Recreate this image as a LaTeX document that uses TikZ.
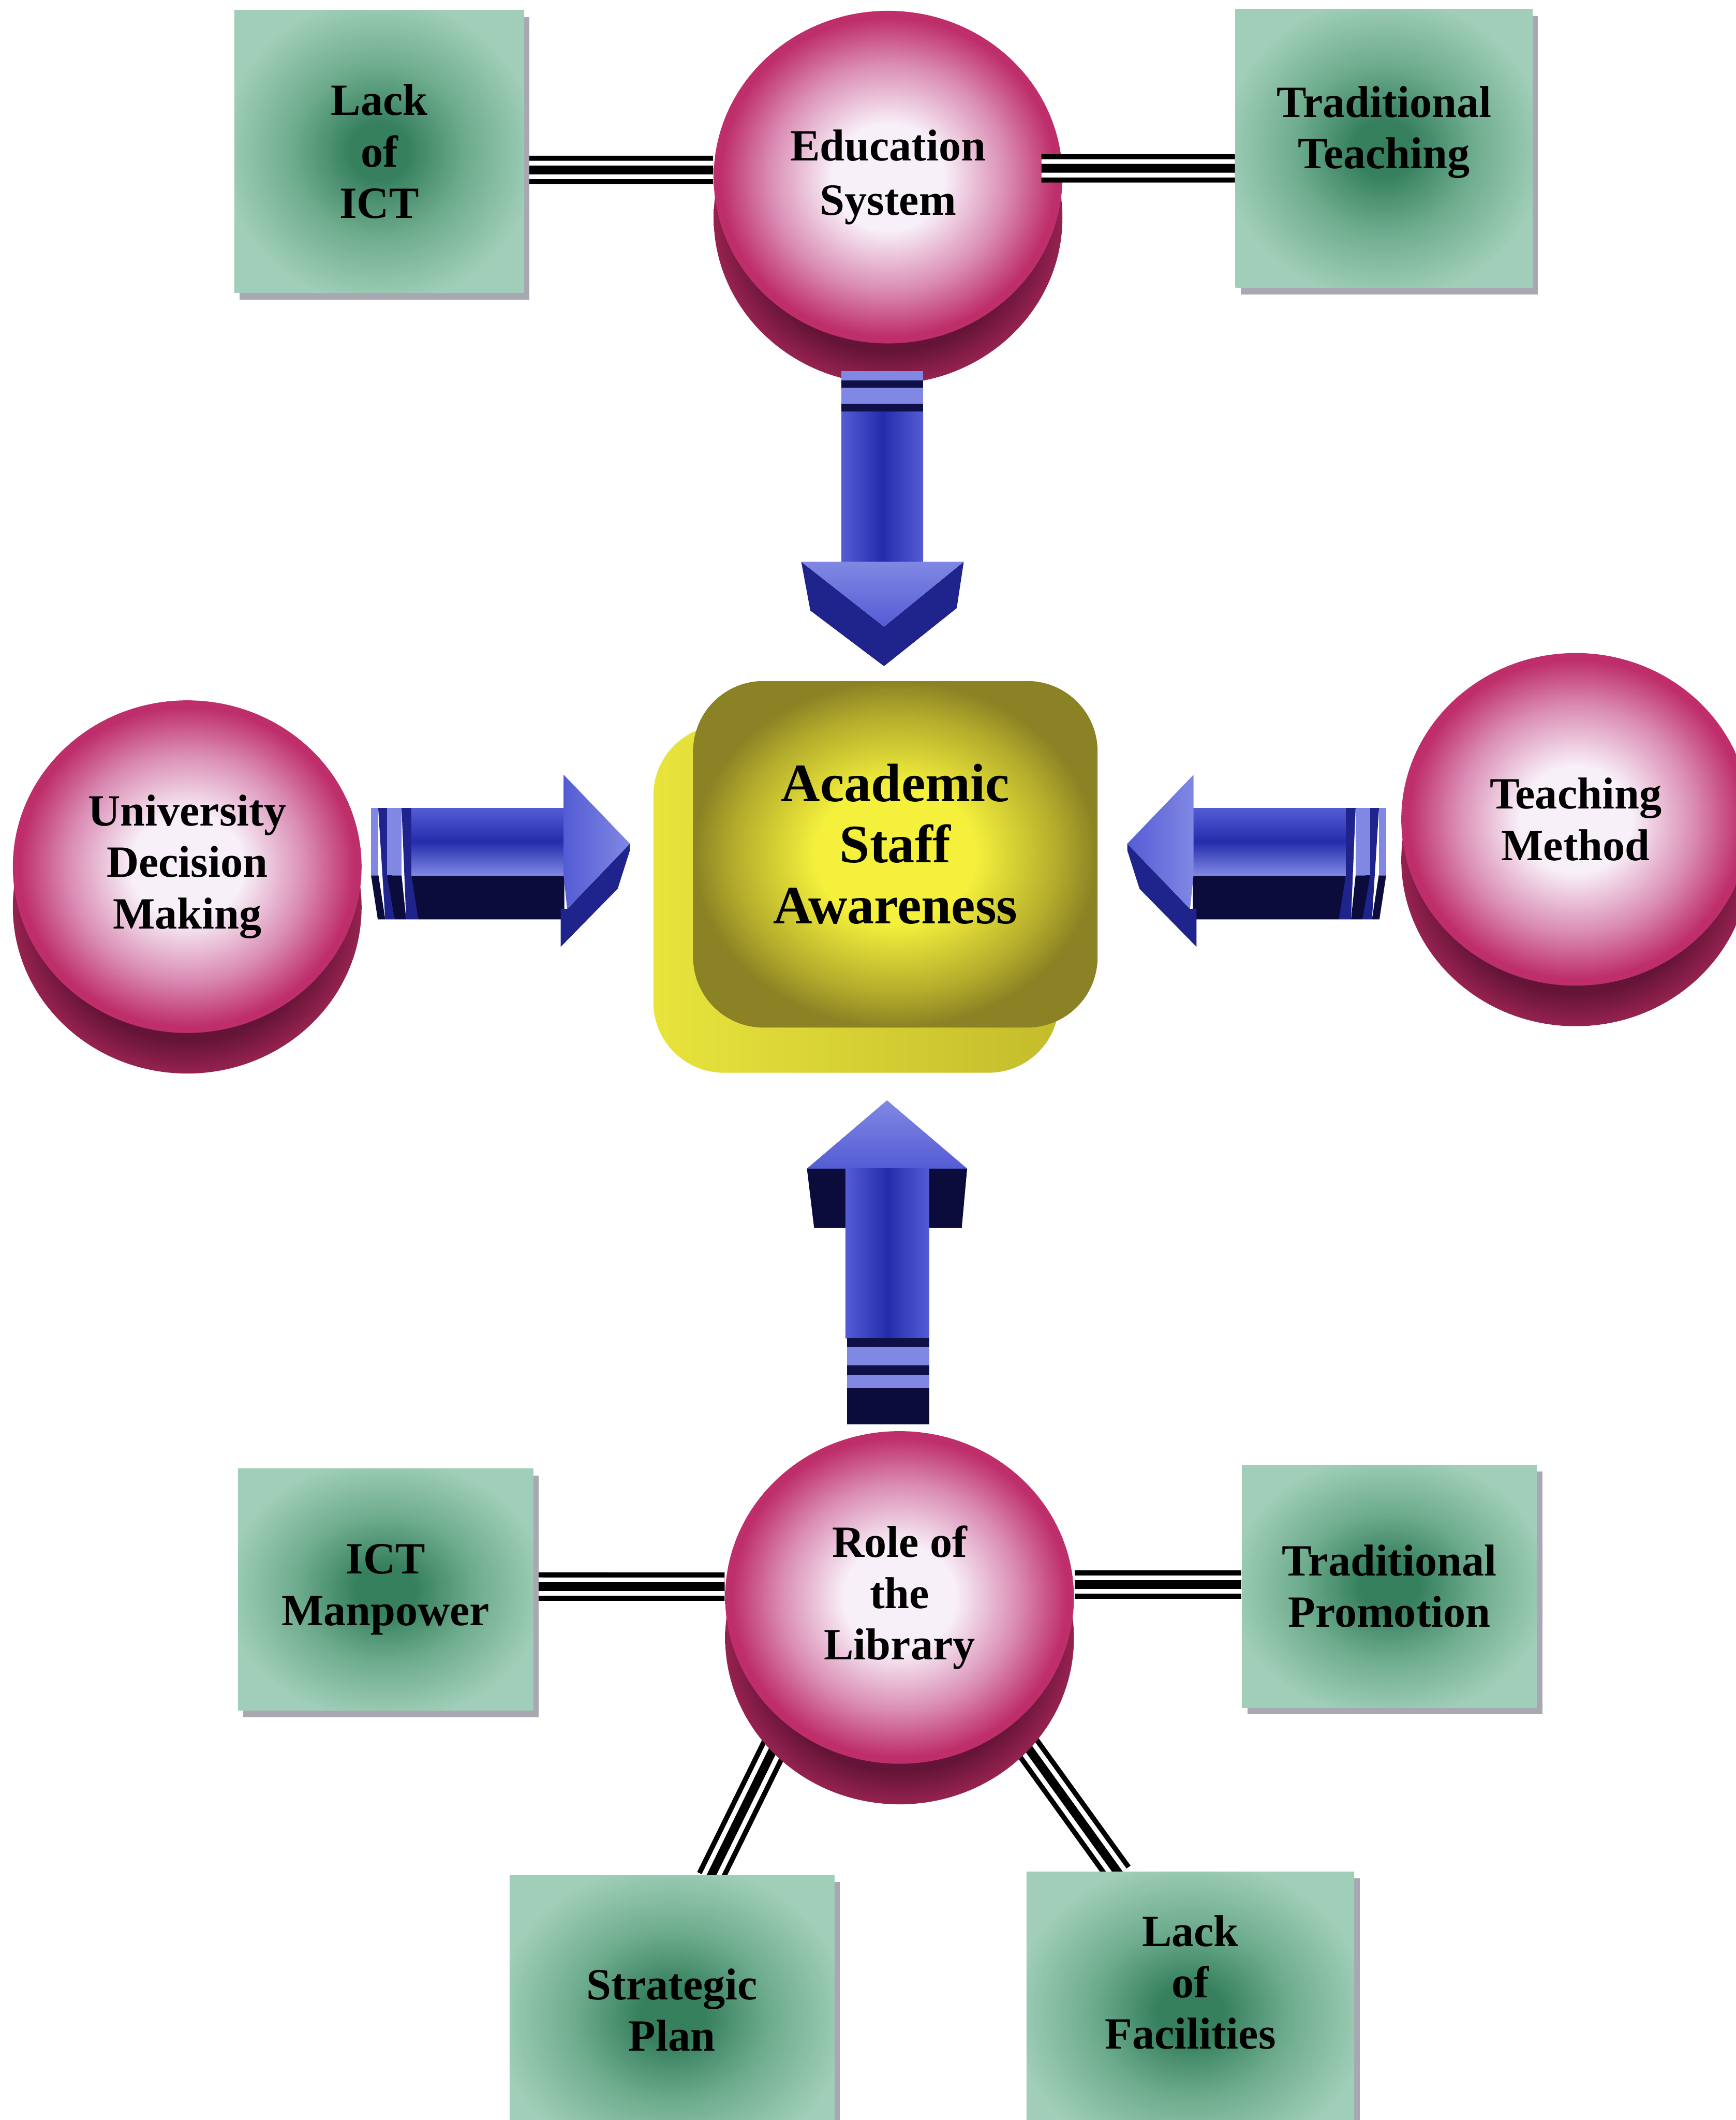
\documentclass[tikz,border=0pt]{standalone}
\usepackage{fontspec}
\setmainfont{Liberation Serif}
\usetikzlibrary{calc,shapes.geometric,shadows}

\definecolor{boxdark}{RGB}{54,128,94}
\definecolor{boxmid}{RGB}{110,172,142}
\definecolor{boxlight}{RGB}{160,206,184}
\definecolor{shadowgray}{RGB}{168,168,178}
\definecolor{cylwhite}{RGB}{248,240,248}
\definecolor{cylmid}{RGB}{218,140,180}
\definecolor{cylrim}{RGB}{190,46,106}
\definecolor{sidedark}{RGB}{100,20,54}
\definecolor{siderim}{RGB}{150,34,80}
\definecolor{ylw}{RGB}{244,240,60}
\definecolor{olivea}{RGB}{180,172,44}
\definecolor{oliveb}{RGB}{138,130,36}
\definecolor{ylwback}{RGB}{232,228,60}
\definecolor{ylwbackb}{RGB}{196,188,44}
\definecolor{arrlight}{RGB}{128,136,228}
\definecolor{arrmid}{RGB}{84,92,212}
\definecolor{arrdeep}{RGB}{36,44,172}
\definecolor{arrside}{RGB}{30,36,140}
\definecolor{arrnavy}{RGB}{12,12,60}
\definecolor{stripe}{RGB}{16,16,72}

\pgfdeclareradialshading{cylface}{\pgfpoint{0bp}{0bp}}{color(0bp)=(cylwhite); color(8bp)=(cylwhite); color(17bp)=(cylmid); color(24bp)=(cylrim); color(50bp)=(cylrim)}
\pgfdeclareradialshading{cylside}{\pgfpoint{0bp}{0bp}}{color(0bp)=(sidedark); color(20bp)=(sidedark); color(25bp)=(siderim); color(50bp)=(siderim)}
\pgfdeclareradialshading{boxsh}{\pgfpoint{0bp}{0bp}}{color(0bp)=(boxdark); color(5bp)=(boxdark); color(15bp)=(boxmid); color(27bp)=(boxlight); color(50bp)=(boxlight)}
\pgfdeclareradialshading{ylwface}{\pgfpoint{0bp}{0bp}}{color(0bp)=(ylw); color(10bp)=(ylw); color(20bp)=(olivea); color(25bp)=(oliveb); color(50bp)=(oliveb)}

\newcommand\dgouterfont{\fontsize{16.5pt}{19pt}\selectfont\bfseries}
\newcommand\dgcenterfont{\fontsize{20pt}{22.5pt}\selectfont\bfseries}

\pgfdeclarelayer{back}
\pgfdeclarelayer{mid}
\pgfsetlayers{back,mid,main}

\newcommand\dghorizarrow{%
  % tail slices
  \fill[arrnavy] (274.5,647.5) -- (280,647.5) -- (285,680) -- (279.5,680) -- cycle;
  \fill[arrside] (279.8,597.6) -- (286.4,597.6) -- (292,680) -- (285,680) -- cycle;
  \fill[arrlight] (274.5,597.6) rectangle (279.8,647.5);
  \fill[arrnavy] (286.4,647.5) -- (297.1,647.5) -- (300.5,680) -- (292,680) -- cycle;
  \fill[arrside] (297.1,597.6) -- (304.4,597.6) -- (309.5,680) -- (300.5,680) -- cycle;
  \fill[arrlight] (286.4,597.6) rectangle (297.1,647.5);
  % shaft
  \fill[arrnavy] (304.4,647.5) -- (417.5,647.5) -- (417.5,680) -- (309.5,680) -- cycle;
  \shade[top color=arrmid, bottom color=arrlight, middle color=arrdeep] (304.4,597.6) rectangle (417.5,647.5);
  % head
  \fill[arrside] (419.6,672.3) -- (466,624) -- (466,629) -- (457,657.3) -- (414.8,700.3) -- (414.8,672) -- cycle;
  \shade[left color=arrmid, right color=arrlight] (417,573) -- (466,624) -- (419.6,672.3) -- (417,647.5) -- cycle;
}

\begin{document}
\begin{tikzpicture}[x=0.5pt, y=-0.5pt,
  gbox/.style={rectangle, inner sep=0pt, shade, shading=boxsh,
    drop shadow={shadow xshift=2pt, shadow yshift=-2.5pt, fill=shadowgray, opacity=1}},
  boxlab/.style={align=center, font=\dgouterfont, inner sep=0pt},
  cyl/.style={ellipse, inner sep=0pt, minimum width=129pt, minimum height=123pt,
    shade, shading=cylface, align=center, font=\dgouterfont},
  centerbox/.style={rectangle, rounded corners=26pt, inner sep=0pt,
    minimum width=149.6pt, minimum height=128.15pt, shade, shading=ylwface},
  centerlab/.style={align=center, font=\dgcenterfont, inner sep=0pt},
  conn/.style={line width=10.5pt, draw=black,
    postaction={draw=white, line width=1.75pt, double=black, double distance=3.25pt}},
  cylbase/.style={shading=cylside}
]
\useasboundingbox (0,0) rectangle (1284,1568);

% ---------- boxes ----------
\node[gbox, minimum width=107.2pt, minimum height=104.5pt,
  label={[boxlab]center:Lack\\of\\ICT}] (lackict) at (280.6,112) {};
\node[gbox, minimum width=109.9pt, minimum height=103pt,
  label={[boxlab, yshift=6pt]center:Traditional\\Teaching}] (tradteach) at (1023.9,109.8) {};
\node[gbox, minimum width=109.25pt, minimum height=89.35pt,
  label={[boxlab]center:ICT\\Manpower}] (ictman) at (285.25,1175.65) {};
\node[gbox, minimum width=109.1pt, minimum height=89.8pt,
  label={[boxlab]center:Traditional\\Promotion}] (tradprom) at (1027.9,1173.2) {};
\node[gbox, minimum width=120.2pt, minimum height=104.5pt,
  label={[boxlab, yshift=2.5pt]center:Strategic\\Plan}] (strat) at (497.2,1491.5) {};
\node[gbox, minimum width=121.25pt, minimum height=104.3pt,
  label={[boxlab, yshift=11.3pt]center:Lack\\of\\Facilities}] (facil) at (880.65,1488.7) {};

% ---------- cylinders ----------
\node[cyl] (edu) at (657,131) {Education\\[1pt]System};
\node[cyl] (udm) at (138.5,641) {University\\Decision\\Making};
\node[cyl] (tm) at (1165.7,606) {Teaching\\Method};
\node[cyl] (role) at (665.5,1181.5) {Role of\\the\\Library};

% ---------- centre ----------
\node[centerbox, label={[centerlab, yshift=3.8pt]center:Academic\\Staff\\Awareness}] (asa) at (662.4,631.85) {};

\begin{pgfonlayer}{mid}
  \foreach \n in {edu,udm,tm,role}
    \shade[cylbase] ($(\n.center)+(0,30)$) ellipse [x radius=64.5pt, y radius=61.5pt];
  \shade[left color=ylwback, right color=ylwbackb, rounded corners=26pt]
    ([shift={(-29,33)}]asa.south west) rectangle ([shift={(-29,33)}]asa.north east);
\end{pgfonlayer}

% ---------- connectors ----------
\begin{pgfonlayer}{back}
  \draw[conn] ($(lackict.east)+(0,13.7)$) -- ($(edu.west)+(0,-5.3)$);
  \draw[conn] ($(ictman.east)+(0,-2.2)$) -- ($(role.west)+(0,-8)$);
  \draw[conn] ($(role.east)+(0,-9.6)$) -- ($(tradprom.west)+(0,-1.3)$);
  \draw[conn] ($(role.center)+(-85.3,95.8)$) -- ($(strat.north west)+(148.6,2.6)$);
  \draw[conn] ($(role.center)+(85.1,97.4)$) -- ($(facil.north west)+(68.9,2)$);
\end{pgfonlayer}
\draw[conn] ($(edu.east)+(-16,-6.5)$) -- ($(tradteach.west)+(0,14.7)$);

% ---------- down arrow (Education System -> Academic Staff Awareness) ----------
\fill[arrlight] (622.6,274.6) rectangle (683,304.4);
\fill[stripe] (622.6,281.5) rectangle (683,286.6);
\fill[stripe] (622.6,298.5) rectangle (683,304.4);
\shade[left color=arrmid, right color=arrmid, middle color=arrdeep] (622.6,304.4) rectangle (683,416);
\fill[arrside] (592.8,415.5) -- (599.5,451.6) -- (654,492.7) -- (707.8,449.8) -- (713,415.5) -- (654,463.5) -- cycle;
\shade[top color=arrlight, bottom color=arrmid] (592.8,415.5) -- (713,415.5) -- (654,463.5) -- cycle;

% ---------- up arrow (Role of the Library -> Academic Staff Awareness) ----------
\shade[top color=arrlight, bottom color=arrmid] (597,864.3) -- (656.2,813.8) -- (715.5,864.3) -- cycle;
\fill[arrnavy] (597,864.3) -- (625.5,864.3) -- (625.5,908.3) -- (602.3,908.3) -- cycle;
\fill[arrnavy] (687.5,864.3) -- (715.5,864.3) -- (711.5,908.3) -- (687.5,908.3) -- cycle;
\shade[left color=arrmid, right color=arrmid, middle color=arrdeep] (625.5,864) rectangle (687.5,989.7);
\fill[arrlight] (626.5,989.7) rectangle (687.5,1026.6);
\fill[stripe] (626.5,989.7) rectangle (687.5,996);
\fill[stripe] (626.5,1010) rectangle (687.5,1017);
\fill[arrnavy] (626.5,1026.6) rectangle (687.5,1053.5);

% ---------- horizontal arrows ----------
\dghorizarrow
\begin{scope}[shift={(1300,0)}, xscale=-1]
  \dghorizarrow
\end{scope}

\end{tikzpicture}
\end{document}
